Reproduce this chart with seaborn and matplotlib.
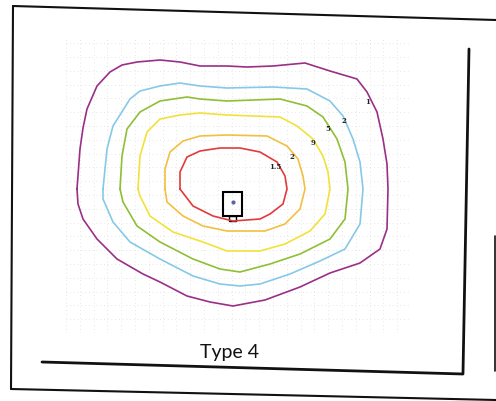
import numpy as np
import pandas as pd
import matplotlib
matplotlib.use("Agg")
import matplotlib.pyplot as plt
import seaborn as sns
from matplotlib.lines import Line2D
from matplotlib.patches import Rectangle

# ---------------- data (contour lines, grid units, y up) ----------------
purple_x = [1.1, 1.4, 1.7, 2.1, 3.1, 4.4, 5.6, 7.1, 9.4, 11.4, 13.4, 16.1, 18.1, 20.7, 23.9, 26.4, 29.1, 30.1,
            31.1, 31.7, 32.1, 32.2, 32.1, 31.4, 29.4, 26.4, 23.4, 19.9, 16.7, 14.4, 12.1, 9.4, 7.7, 5.1, 3.1,
            1.7, 1.2]
purple_y = [14.4, 18.4, 20.5, 22.4, 24.7, 26.1, 26.8, 27.1, 27.3, 27.1, 26.7, 26.7, 26.6, 26.7, 27.0, 26.2, 25.4,
            24.1, 22.1, 19.4, 16.9, 14.4, 10.4, 8.4, 7.0, 6.0, 4.6, 3.3, 2.7, 3.1, 3.7, 5.1, 5.9, 7.4, 9.4,
            11.4, 12.9]

blue_x = [3.7, 4.1, 4.7, 6.4, 7.4, 9.4, 11.4, 13.4, 16.1, 20.7, 24.1, 26.4, 27.7, 28.7, 29.4, 29.7,
          29.4, 27.9, 25.4, 22.4, 19.4, 17.4, 15.4, 12.7, 9.4, 6.4, 4.7, 3.7]
blue_y = [14.4, 18.4, 20.7, 23.4, 24.2, 24.7, 25.0, 24.7, 24.5, 24.6, 24.4, 23.2, 21.7, 19.4, 17.1, 14.4,
          10.9, 8.4, 7.2, 5.9, 4.9, 4.7, 4.9, 5.7, 7.4, 9.1, 11.1, 13.4]

green_x = [5.4, 5.6, 6.1, 7.4, 9.4, 12.1, 13.4, 16.1, 21.4, 24.1, 25.7, 27.1, 27.9, 28.2, 27.9, 26.4,
           23.4, 20.4, 17.4, 15.4, 12.7, 9.4, 7.1, 5.7]
green_y = [14.4, 17.7, 20.4, 22.1, 23.2, 23.6, 23.4, 23.2, 23.4, 22.7, 21.6, 19.4, 17.1, 14.4, 11.4, 9.4,
           7.9, 6.9, 6.1, 6.4, 7.4, 9.1, 10.7, 13.1]

yellow_x = [7.2, 7.4, 8.1, 9.4, 11.4, 13.4, 16.1, 21.4, 23.1, 24.7, 25.7, 26.2, 26.4, 25.9, 24.4, 21.9,
            19.4, 16.1, 13.7, 10.7, 8.4, 7.4]
yellow_y = [14.4, 17.7, 20.1, 21.4, 21.8, 22.0, 21.8, 21.6, 20.7, 19.4, 17.7, 16.1, 14.4, 11.9, 10.2, 8.9,
            8.2, 8.2, 9.1, 10.1, 11.7, 13.7]

orange_x = [9.9, 9.9, 10.4, 11.7, 13.4, 16.1, 20.1, 22.1, 23.2, 23.7, 23.9, 23.4, 21.9, 19.9, 16.1, 13.7,
            11.7, 10.1]
orange_y = [14.4, 16.4, 18.1, 19.2, 19.7, 19.8, 19.7, 18.7, 17.4, 15.7, 14.4, 12.4, 10.9, 10.2, 10.2, 10.7,
            11.7, 13.1]

red_x = [11.4, 11.4, 12.1, 13.4, 15.4, 17.4, 19.4, 21.1, 21.9, 22.1, 21.7, 20.4, 19.4, 16.7, 14.7, 12.7]
red_y = [14.4, 16.1, 17.6, 18.2, 18.5, 18.5, 18.1, 17.1, 15.7, 14.4, 12.9, 11.9, 11.4, 11.2, 11.7, 12.7]

level_labels = ["1", "2", "5", "9", "2", "1.5"]
label_x = [30.2, 27.8, 26.2, 24.7, 22.6, 20.9]
label_y = [23.2, 21.3, 20.5, 19.1, 17.7, 16.7]

# luminaire position and size (grid units)
lum_x, lum_y = 16.65, 12.9
lum_w, lum_h = 1.9, 2.4

title = "Type 4"

# ---------------- plotting ----------------
sns.set_theme(style="white")
plt.rcParams["font.family"] = ["Lato", "DejaVu Sans"]

fig = plt.figure(figsize=(4.96, 4.02), dpi=100)
fig.patch.set_facecolor("white")
ax = fig.add_axes([66 / 496, (402 - 334) / 402, 345 / 496, 296 / 402])
ax.set_facecolor("white")
ax.set_xlim(0, 34.5)
ax.set_ylim(0, 29.6)
ax.set_xticks(np.arange(0, 34.6, 1.38))
ax.set_yticks(np.arange(0, 29.7, 1.38))
ax.grid(True, color="#dedede", linestyle=(0, (1, 3.5)), linewidth=0.6)
ax.tick_params(length=0, labelbottom=False, labelleft=False)
for s in ax.spines.values():
    s.set_visible(False)

series = [
    (purple_x, purple_y, "#9a2f86"),
    (blue_x, blue_y, "#86c9e6"),
    (green_x, green_y, "#8fbf35"),
    (yellow_x, yellow_y, "#f1e23a"),
    (orange_x, orange_y, "#f2c040"),
    (red_x, red_y, "#e23a3c"),
]
for xs, ys, col in series:
    df = pd.DataFrame({"x": list(xs) + [xs[0]], "y": list(ys) + [ys[0]]})
    sns.lineplot(data=df, x="x", y="y", sort=False, estimator=None, color=col,
                 linewidth=1.2, ax=ax, legend=False, solid_joinstyle="round")

for lab, lx, ly in zip(level_labels, label_x, label_y):
    ax.text(lx, ly, lab, fontsize=5, fontweight="bold", family="DejaVu Serif",
            color="#222222", ha="center", va="center")

ax.add_patch(Rectangle((lum_x - lum_w / 2, lum_y - lum_h / 2), lum_w, lum_h,
                       fill=False, ec="black", lw=1.5))
ax.add_patch(Rectangle((lum_x - 0.35, lum_y - lum_h / 2 - 0.5), 0.7, 0.5,
                       fill=False, ec="black", lw=1.0))
ax.plot([lum_x], [lum_y + 0.2], "o", ms=2, color="#5a63a8")
ax.set_xlabel("")
ax.set_ylabel("")

# page frame lines (figure pixel coordinates of the scanned page)
def fl(x0, y0, x1, y1, lw=1.5):
    fig.add_artist(Line2D([x0 / 496, x1 / 496], [1 - y0 / 402, 1 - y1 / 402],
                          transform=fig.transFigure, color="#111111", lw=lw))

fl(13, 7, 496, 21)
fl(13, 7, 11, 390)
fl(11, 390, 496, 401)
fl(495, 237, 495, 372, lw=1.2)
fl(469, 50, 463, 374, lw=2.0)
fl(42, 363, 463, 375, lw=2.0)

fig.text(230 / 496, 1 - 358 / 402, title, fontsize=14, ha="center", va="baseline",
         color="#111111")

fig.savefig("out.png", dpi=100, facecolor="white")
